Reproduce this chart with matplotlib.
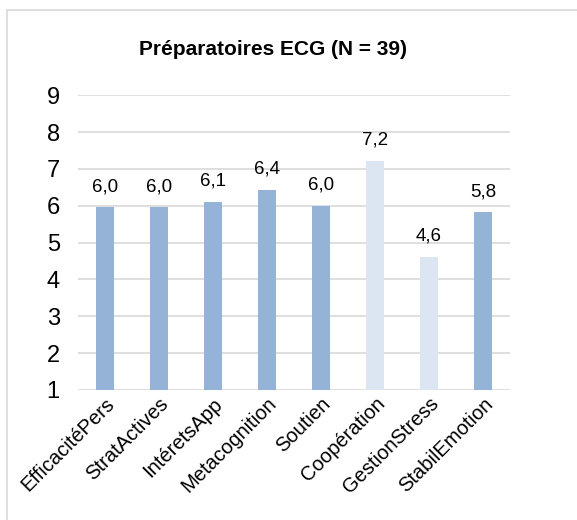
import matplotlib.pyplot as plt
from matplotlib.patches import Rectangle

categories = ["EfficacitéPers", "StratActives", "IntéretsApp", "Metacognition",
              "Soutien", "Coopération", "GestionStress", "StabilEmotion"]
values = [5.96, 5.96, 6.1, 6.44, 6.0, 7.22, 4.62, 5.82]
labels = ["6,0", "6,0", "6,1", "6,4", "6,0", "7,2", "4,6", "5,8"]
colors = ["#95B3D7", "#95B3D7", "#95B3D7", "#95B3D7", "#95B3D7",
          "#DCE6F2", "#DCE6F2", "#95B3D7"]
yticks = [1, 2, 3, 4, 5, 6, 7, 8, 9]

plt.rcParams['font.family'] = ['Liberation Sans', 'DejaVu Sans']

fig = plt.figure(figsize=(5.77, 5.2), dpi=100)
ax = fig.add_axes([0.135, 0.25, 0.749, 0.567])

# cadre gris autour du graphique
fig.patches.append(Rectangle((7 / 577, -0.05), 1.1, 1 - 10 / 520 + 0.05,
                             transform=fig.transFigure, fill=False,
                             edgecolor="#D9D9D9", linewidth=1.2))

x = range(len(categories))
bars = ax.bar(x, values, width=0.32, bottom=0, color=colors, zorder=2)
for xi, v, lab in zip(x, values, labels):
    ax.text(xi, v + 0.33, lab, ha="center", va="bottom", fontsize=13.5)

ax.set_ylim(1, 9)
ax.set_xlim(-0.5, len(categories) - 0.5)
ax.set_yticks(yticks)
ax.set_yticklabels([str(t) for t in yticks], fontsize=17)
ax.set_xticks(list(x))
ax.set_xticklabels(categories, rotation=45, ha="right", rotation_mode="anchor",
                   fontsize=14.5)
ax.tick_params(axis="both", length=0)
ax.tick_params(axis="y", pad=13)
ax.tick_params(axis="x", pad=3)
ax.grid(axis="y", color="#D9D9D9", linewidth=1.2, zorder=0)
for s in ax.spines.values():
    s.set_visible(False)

fig.text(0.473, 0.904, "Préparatoires ECG (N = 39)", ha="center", va="center",
         fontsize=15, fontweight="bold")

fig.savefig("out.png", dpi=100)
